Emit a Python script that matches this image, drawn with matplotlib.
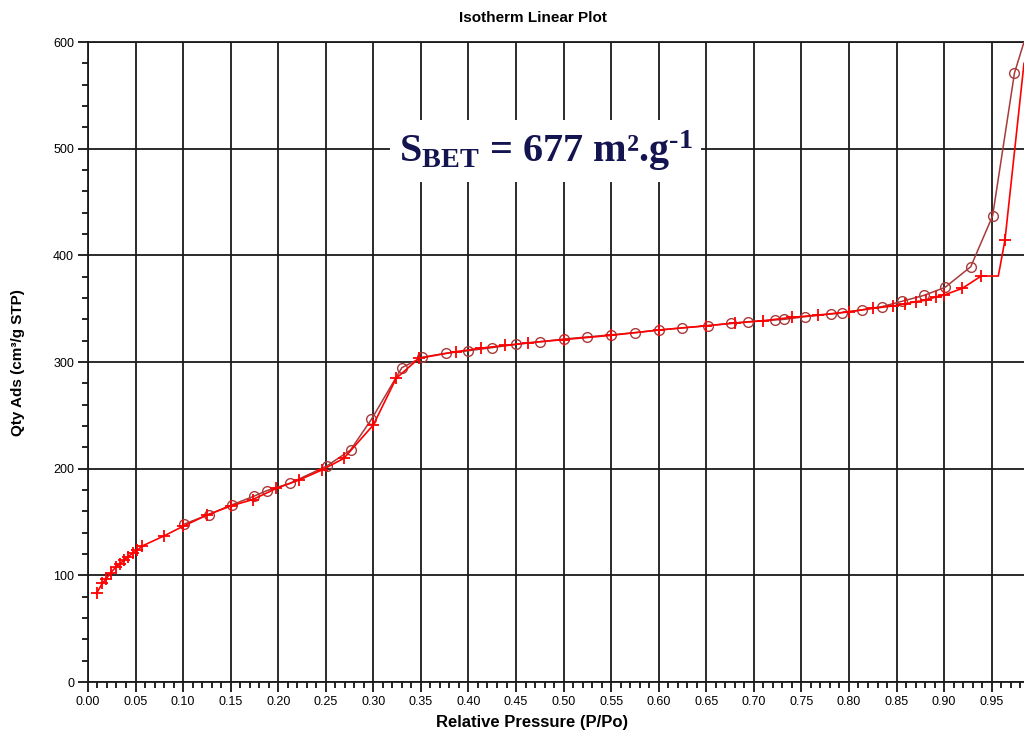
import matplotlib
matplotlib.use("Agg")
import matplotlib.pyplot as plt
from matplotlib import font_manager
from matplotlib.ticker import MultipleLocator, FormatStrFormatter

# === DATA ===
# adsorption branch ('+', red); indices in *_unmarked -> point on the line only
ads_p = [0.009, 0.015, 0.019, 0.024, 0.029, 0.034, 0.038, 0.042, 0.047, 0.052,
         0.057, 0.080, 0.100, 0.125, 0.150, 0.173, 0.198, 0.222, 0.246, 0.269,
         0.300, 0.324, 0.348, 0.387, 0.413, 0.438, 0.463, 0.500, 0.550, 0.600,
         0.650, 0.680, 0.710, 0.740, 0.767, 0.800, 0.825, 0.846, 0.859, 0.870,
         0.881, 0.891, 0.900, 0.919, 0.939, 0.957, 0.964, 0.984]
ads_q = [83, 92.5, 96.5, 102.5, 107.5, 111, 114.4, 117.5, 120.6, 123.7,
         127.5, 137, 146, 156.5, 165, 171, 181.5, 189.4, 198.8, 209.7,
         241, 284.7, 303.5, 309.7, 313, 315.5, 318, 321, 325, 330,
         334, 336.5, 338.7, 341.9, 344, 347, 350.3, 352.5, 354.5, 356.5,
         358, 361, 362.8, 369, 380.6, 380.6, 414.4, 580]
ads_unmarked = [45, 47]

# desorption branch ('o', brown-red)
des_p = [0.101, 0.127, 0.151, 0.175, 0.188, 0.212, 0.251, 0.276, 0.298, 0.330,
         0.351, 0.376, 0.400, 0.425, 0.450, 0.475, 0.500, 0.525, 0.550, 0.575,
         0.600, 0.625, 0.652, 0.676, 0.694, 0.722, 0.732, 0.754, 0.781, 0.793,
         0.814, 0.835, 0.856, 0.879, 0.901, 0.928, 0.951, 0.974, 0.984]
des_q = [148, 157, 166, 174.4, 179.4, 186.2, 202.5, 217.5, 246.3, 294.7,
         304.4, 308.2, 310.6, 313.5, 316.5, 319, 321.5, 323.5, 325.5, 327.5,
         330, 332, 334, 336.3, 337.8, 339.4, 340, 342.5, 345, 346.4,
         349, 352, 357, 362.5, 370, 389.3, 437, 571, 600]
des_unmarked = [38]

title = "Isotherm Linear Plot"
xlabel = "Relative Pressure (P/Po)"
ylabel = "Qty Ads (cm³/g STP)"
bet_text = r"S$_{\mathbf{BET}}$ = 677 m².g$^{\text{-1}}$"

# === FONTS ===
names = {f.name for f in font_manager.fontManager.ttflist}
tick_font = "Liberation Sans Narrow" if "Liberation Sans Narrow" in names else "Liberation Sans"
plt.rcParams.update({
    'font.family': [tick_font, 'DejaVu Sans'],
    'mathtext.fontset': 'custom',
    'mathtext.rm': 'Liberation Serif:bold',
    'mathtext.it': 'Liberation Serif:bold',
    'mathtext.bf': 'Liberation Serif:bold',
})

fig = plt.figure(figsize=(10.24, 7.37), dpi=100)
ax = fig.add_axes([0.0859, 0.0746, 1.0 - 0.0859, 0.943 - 0.0746])

ads_marks = [i for i in range(len(ads_p)) if i not in ads_unmarked]
des_marks = [i for i in range(len(des_p)) if i not in des_unmarked]

ax.plot(des_p, des_q, color='#a83a3a', lw=1.1, marker='o', ms=7, mfc='none',
        mew=1.0, markevery=des_marks, zorder=3)
ax.plot(ads_p, ads_q, color='#ff0000', lw=1.2, marker='+', ms=9,
        mew=1.3, markevery=ads_marks, zorder=4)

ax.set_xlim(0, 0.984)
ax.set_ylim(0, 600)
ax.xaxis.set_major_locator(MultipleLocator(0.05))
ax.xaxis.set_minor_locator(MultipleLocator(0.01))
ax.yaxis.set_major_locator(MultipleLocator(100))
ax.yaxis.set_minor_locator(MultipleLocator(20))
ax.xaxis.set_major_formatter(FormatStrFormatter('%.2f'))
ax.yaxis.set_major_formatter(FormatStrFormatter('%d'))
ax.grid(True, which='major', color='#1a1a1a', lw=1.3)
ax.set_axisbelow(True)
ax.tick_params(which='major', length=7, width=1.2, labelsize=9, pad=3)
ax.tick_params(which='minor', length=4, width=1.2)
ax.spines['right'].set_visible(False)
for side in ['left', 'bottom', 'top']:
    ax.spines[side].set_linewidth(1.3)
    ax.spines[side].set_color('#1a1a1a')

fig.text(0.52, 0.975, title, ha='center', va='center', fontsize=11,
         fontweight='bold', family=['Liberation Sans', 'DejaVu Sans'])
fig.text(0.52, 0.02, xlabel, ha='center', va='center', fontsize=12,
         fontweight='bold', family=['Liberation Sans', 'DejaVu Sans'])
fig.text(0.018, 0.508, ylabel, ha='center', va='center', rotation=90,
         fontsize=11, fontweight='bold', family=['Liberation Sans', 'DejaVu Sans'])

ax.text(0.481, 498, bet_text, ha='center', va='center', fontsize=29,
        color='#141450', family=['Liberation Serif'], fontweight='bold',
        bbox=dict(facecolor='white', edgecolor='none', pad=6), zorder=5)

fig.savefig("out.png", dpi=100)
